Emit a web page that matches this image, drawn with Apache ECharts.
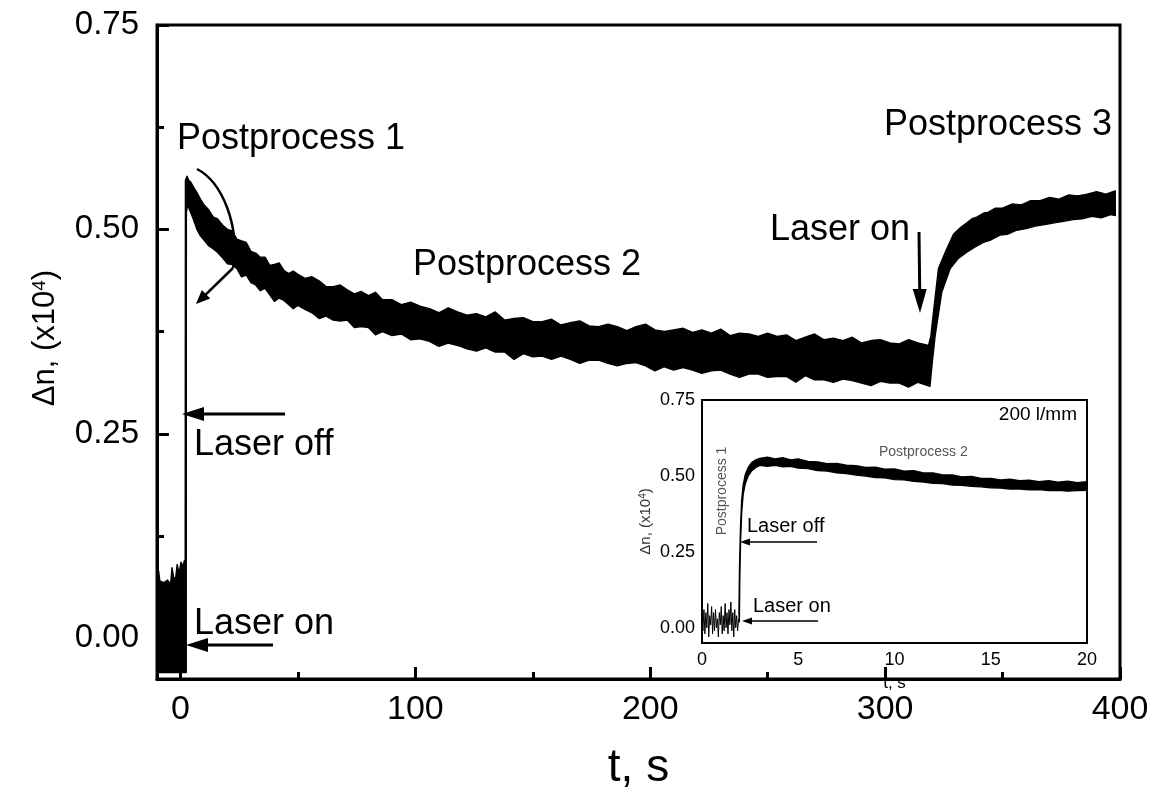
<!DOCTYPE html>
<html>
<head>
<meta charset="utf-8">
<script src="https://cdn.jsdelivr.net/npm/echarts@6.0.0/dist/echarts.min.js"></script>
<style>
html,body{margin:0;padding:0;background:#fff;}
#chart{width:1160px;height:796px;}
</style>
</head>
<body>
<div id="chart"></div>
<script>
// ---------------- DATA ----------------
// Main trace: upper and lower envelope of the noisy band (t in s, value in x10^4)
const mainUpperT = [-10,-9.3,-8.8,-7,-5.5,-4.2,-3.6,-2.8,-2.0,-1.4,-0.6,0.2,1.0,1.7,2.0,2.1,2.8,3.5,4.3,5.5,7,8.5,10,12,14,15.7,18,
  20,22,24,26,28,30,32,34,36,38,40,42,44,46,48,50,53,56,59,62,65,68,71,74,77,80,83,86,90,94,98,102,106,110,114,118,122,126,130,134,138,142,146,150,154,158,162,166,170,174,178,182,186,190,194,198,202,206,210,214,218,222,226,230,234,238,242,246,250,254,258,262,266,270,274,278,282,286,290,294,298,302,306,310,314,318.5,
  319.5,320.6,322.7,326.2,329.1,332,334.8,337,339,342,344,347,350,354,358,362,366,370,374,378,382,386,390,394,398];
const mainUpperV = [0.078,0.082,0.070,0.068,0.071,0.066,0.086,0.072,0.075,0.090,0.079,0.093,0.088,0.095,0.092,0.560,0.565,0.560,0.558,0.552,0.545,0.537,0.530,0.524,0.515,0.513,0.505,
  0.500,0.498,0.488,0.486,0.484,0.473,0.471,0.466,0.466,0.456,0.457,0.459,0.450,0.446,0.449,0.445,0.440,0.442,0.437,0.430,0.430,0.432,0.426,0.421,0.424,0.419,0.423,0.414,0.414,0.408,0.411,0.406,0.403,0.398,0.404,0.399,0.395,0.397,0.393,0.399,0.389,0.391,0.392,0.387,0.387,0.390,0.383,0.386,0.388,0.382,0.381,0.384,0.381,0.376,0.381,0.384,0.377,0.375,0.377,0.379,0.374,0.377,0.373,0.378,0.370,0.373,0.372,0.369,0.373,0.369,0.371,0.364,0.368,0.372,0.365,0.367,0.364,0.368,0.361,0.364,0.365,0.361,0.360,0.365,0.361,0.358,
  0.370,0.399,0.452,0.476,0.494,0.502,0.508,0.513,0.515,0.520,0.521,0.526,0.526,0.531,0.530,0.535,0.535,0.539,0.537,0.542,0.541,0.543,0.546,0.543,0.547];
const mainLowerT = [-10,2.45,2.5,3.0,4.3,5.5,7,8.5,10,12,14,15.7,18,
  20,22,24,26,28,30,32,34,36,38,40,42,44,46,48,50,53,56,59,62,65,68,71,74,77,80,83,86,90,94,98,102,106,110,114,118,122,126,130,134,138,142,146,150,154,158,162,166,170,174,178,182,186,190,194,198,202,206,210,214,218,222,226,230,234,238,242,246,250,254,258,262,266,270,274,278,282,286,290,294,298,302,306,310,314,319.1,
  320,321.3,324.1,327.7,331,334.8,338,341.8,345,348.9,352,356,360,364,368,372,376,380,384,388,392,396,398];
const mainLowerV = [-0.042,-0.042,0.520,0.530,0.521,0.512,0.500,0.492,0.487,0.480,0.476,0.472,0.465,
  0.458,0.457,0.452,0.442,0.444,0.435,0.432,0.425,0.428,0.420,0.412,0.416,0.413,0.408,0.403,0.407,0.402,0.398,0.391,0.394,0.389,0.388,0.389,0.380,0.381,0.380,0.371,0.375,0.370,0.372,0.365,0.366,0.363,0.357,0.361,0.358,0.354,0.351,0.355,0.350,0.350,0.341,0.348,0.344,0.345,0.341,0.345,0.341,0.336,0.340,0.340,0.336,0.333,0.336,0.337,0.333,0.327,0.332,0.328,0.331,0.328,0.324,0.327,0.328,0.323,0.319,0.323,0.323,0.319,0.320,0.320,0.313,0.321,0.316,0.316,0.313,0.317,0.315,0.312,0.309,0.314,0.312,0.312,0.307,0.313,0.308,
  0.335,0.370,0.423,0.452,0.464,0.472,0.478,0.484,0.487,0.493,0.494,0.499,0.501,0.504,0.506,0.508,0.510,0.512,0.513,0.516,0.514,0.518,0.517];

// Inset: noise before the laser is switched off
const insetNoiseT = [0,0.05,0.1,0.15,0.2,0.25,0.3,0.35,0.4,0.45,0.5,0.55,0.6,0.65,0.7,0.75,0.8,0.85,0.9,0.95,1.0,1.05,1.1,1.15,1.2,1.25,1.3,1.35,1.4,1.45,1.5,1.55,1.6,1.65,1.7,1.75,1.8,1.85,1.9];
const insetNoiseV = [0.03,-0.01,0.06,-0.02,0.05,0.00,0.08,-0.03,0.04,0.01,0.07,-0.02,0.05,-0.01,0.06,0.00,0.03,-0.03,0.05,0.01,0.07,-0.02,0.04,-0.01,0.08,0.00,0.05,-0.02,0.06,0.01,0.085,-0.01,0.05,-0.03,0.06,0.00,0.04,-0.01,0.03];
// Inset: rise and slow decay band envelopes
const insetUpperT = [1.92,1.95,2.0,2.06,2.14,2.25,2.4,2.6,2.8,3.0,3.4,3.8,4.2,4.6,5.0,5.5,6.0,6.5,7.0,7.5,8.0,8.5,9.0,9.5,10.0,10.5,11.0,11.5,12.0,12.5,13.0,13.5,14.0,14.5,15.0,15.5,16.0,16.5,17.0,17.5,18.0,18.5,19.0,19.5,20.0];
const insetUpperV = [0.05,0.20,0.33,0.42,0.47,0.505,0.528,0.545,0.553,0.558,0.562,0.556,0.560,0.553,0.556,0.548,0.546,0.540,0.541,0.535,0.534,0.528,0.529,0.522,0.523,0.516,0.517,0.510,0.510,0.503,0.503,0.497,0.498,0.492,0.492,0.487,0.489,0.484,0.486,0.481,0.484,0.479,0.483,0.478,0.481];
const insetLowerT = [1.94,1.96,2.0,2.06,2.14,2.25,2.4,2.6,2.8,3.0,3.4,3.8,4.2,4.6,5.0,5.5,6.0,6.5,7.0,7.5,8.0,8.5,9.0,9.5,10.0,10.5,11.0,11.5,12.0,12.5,13.0,13.5,14.0,14.5,15.0,15.5,16.0,16.5,17.0,17.5,18.0,18.5,19.0,19.5,20.0];
const insetLowerV = [0.02,0.15,0.28,0.38,0.44,0.475,0.50,0.518,0.528,0.535,0.532,0.535,0.530,0.532,0.526,0.524,0.518,0.516,0.510,0.508,0.503,0.500,0.495,0.494,0.488,0.487,0.482,0.480,0.476,0.475,0.470,0.469,0.466,0.464,0.461,0.460,0.457,0.457,0.454,0.455,0.452,0.453,0.450,0.452,0.453];

// Tick values
const mainXTicks = [0,100,200,300,400];
const mainXMinor = [50,150,250,350];
const yTicks = [0,0.25,0.5,0.75];
const yMinor = [0.125,0.375,0.625];

// ---------------- CHART ----------------
const FONT = '"Liberation Sans", Arial, Helvetica, sans-serif';
const chart = echarts.init(document.getElementById('chart'), null, {renderer:'canvas'});

function bandRenderer(upT, upV, loT, loV){
  return function(params, api){
    const pts = [];
    for (let i=0;i<upT.length;i++) pts.push(api.coord([upT[i], upV[i]]));
    for (let i=loT.length-1;i>=0;i--) pts.push(api.coord([loT[i], loV[i]]));
    return {type:'polygon', shape:{points:pts}, style:{fill:'#000', stroke:'#000', lineWidth:1.4, lineJoin:'round'}};
  };
}

function arrow(x1,y1,x2,y2,w,hl,hw){
  const dx=x2-x1, dy=y2-y1, L=Math.hypot(dx,dy), ux=dx/L, uy=dy/L;
  const bx=x2-ux*hl, by=y2-uy*hl;
  return [
    {type:'line', shape:{x1:x1,y1:y1,x2:bx+ux*2,y2:by+uy*2}, style:{stroke:'#000', lineWidth:w}, z:100},
    {type:'polygon', shape:{points:[[x2,y2],[bx-uy*hw,by+ux*hw],[bx+uy*hw,by-ux*hw]]}, style:{fill:'#000'}, z:100}
  ];
}
function label(text,x,y,size,opts){
  opts = opts||{};
  return {type:'text', x:x, y:y, rotation:opts.rot||0, z:100,
    style:{text:text, x:0, y:0, font: size+'px '+FONT, fill: opts.color||'#000',
      textAlign: opts.align||'left', textVerticalAlign:'middle'}};
}

const graphics = [].concat(
  [label('Postprocess 1',177,139,36),
   label('Postprocess 2',413,265,36),
   label('Postprocess 3',1112,125,36,{align:'right'}),
   label('Laser on',770,230,36),
   label('Laser off',194,445,36),
   label('Laser on',194,624,36)],
  arrow(285,414,182,414,3,22,7),
  arrow(273,645,186,645,3,22,7),
  arrow(919,232,920,313,3,24,7),
  [{type:'bezierCurve', shape:{x1:197,y1:169,cpx1:222,cpy1:182,cpx2:240,cpy2:225,x2:233,y2:268}, style:{stroke:'#000', lineWidth:2.5, fill:null}, z:100}],
  arrow(233,268,196,304,2.5,14,6),
  // inset annotations
  [label('200 l/mm',1077,415,19,{align:'right'}),
   label('Postprocess 2',879,452,14,{color:'#555'}),
   label('Postprocess 1',722,491,14,{color:'#555', align:'center', rot:Math.PI/2}),
   label('Laser off',747,526,20),
   label('Laser on',753,606,20)],
  arrow(817,542,740,542,1.5,10,3.5),
  arrow(818,621,742,621,1.5,10,3.5)
);

const axisLineMain = {show:true, onZero:false, lineStyle:{color:'#000', width:3}};
const axisLineInset = {show:true, onZero:false, lineStyle:{color:'#000', width:2}};
const hiddenLine = {show:false, onZero:false};

const option = {
  animation:false,
  backgroundColor:'#fff',
  textStyle:{fontFamily:FONT},
  grid:[
    {left:157, right:40, top:25, bottom:116, show:true, borderColor:'#000', borderWidth:3, backgroundColor:'transparent'},
    {left:702, right:73, top:400, bottom:153, show:true, borderColor:'#000', borderWidth:2, backgroundColor:'#fff', z:5}
  ],
  xAxis:[
    {type:'value', gridIndex:0, min:-10, max:400, position:'bottom',
     axisLine:axisLineMain,
     axisTick:{show:true, inside:true, length:12, customValues:mainXTicks, lineStyle:{color:'#000', width:3}},
     axisLabel:{show:true, customValues:mainXTicks, fontSize:34, color:'#000', margin:14, fontFamily:FONT},
     splitLine:{show:false},
     name:'t, s', nameLocation:'middle', nameGap:66, nameTextStyle:{fontSize:46, color:'#000', fontFamily:FONT}},
    {type:'value', gridIndex:0, min:-10, max:400, position:'bottom',
     axisLine:hiddenLine,
     axisTick:{show:true, inside:true, length:7, customValues:mainXMinor, lineStyle:{color:'#000', width:3}},
     axisLabel:{show:false}, splitLine:{show:false}},
    {type:'value', gridIndex:1, min:0, max:20, interval:5, position:'bottom',
     axisLine:axisLineInset,
     axisTick:{show:true, inside:true, length:6, lineStyle:{color:'#000', width:1.5}},
     minorTick:{show:true, splitNumber:2, length:3, lineStyle:{color:'#000', width:1.5}},
     axisLabel:{fontSize:18, color:'#000', margin:8, fontFamily:FONT},
     splitLine:{show:false}, minorSplitLine:{show:false},
     name:'t, s', nameLocation:'middle', nameGap:32, nameTextStyle:{fontSize:17, color:'#000', fontFamily:FONT}}
  ],
  yAxis:[
    {type:'value', gridIndex:0, min:-0.05, max:0.75, position:'left',
     axisLine:axisLineMain,
     axisTick:{show:true, inside:true, length:12, customValues:yTicks, lineStyle:{color:'#000', width:3}},
     axisLabel:{show:true, customValues:yTicks, fontSize:33, color:'#000', margin:18, fontFamily:FONT,
       formatter:function(v){return v.toFixed(2);}},
     splitLine:{show:false},
     name:'Δn, (x10{sup|4})', nameLocation:'middle', nameGap:96, nameRotate:90,
     nameTextStyle:{fontSize:31, color:'#000', fontFamily:FONT, padding:[0,0,0,28], rich:{sup:{fontSize:19, verticalAlign:'top', padding:[0,0,12,0], fontFamily:FONT, color:'#000'}}}},
    {type:'value', gridIndex:0, min:-0.05, max:0.75, position:'left',
     axisLine:hiddenLine,
     axisTick:{show:true, inside:true, length:7, customValues:yMinor, lineStyle:{color:'#000', width:3}},
     axisLabel:{show:false}, splitLine:{show:false}},
    {type:'value', gridIndex:1, min:-0.05, max:0.75, position:'left',
     axisLine:axisLineInset,
     axisTick:{show:true, inside:true, length:6, customValues:yTicks, lineStyle:{color:'#000', width:1.5}},
     axisLabel:{show:true, customValues:yTicks, fontSize:18, color:'#000', margin:7, fontFamily:FONT,
       formatter:function(v){return v.toFixed(2);}},
     splitLine:{show:false},
     name:'Δn, (x10{sup|4})', nameLocation:'middle', nameGap:48, nameRotate:90,
     nameTextStyle:{fontSize:15, color:'#333', fontFamily:FONT, rich:{sup:{fontSize:10, verticalAlign:'top', padding:[0,0,6,0], fontFamily:FONT, color:'#333'}}}},
    {type:'value', gridIndex:1, min:-0.05, max:0.75, position:'left',
     axisLine:hiddenLine,
     axisTick:{show:true, inside:true, length:3, customValues:yMinor, lineStyle:{color:'#000', width:1.5}},
     axisLabel:{show:false}, splitLine:{show:false}}
  ],
  series:[
    {type:'custom', name:'main', xAxisIndex:0, yAxisIndex:0, data:[[0,0]], silent:true, z:2,
     renderItem: bandRenderer(mainUpperT, mainUpperV, mainLowerT, mainLowerV)},
    {type:'line', name:'insetNoise', xAxisIndex:2, yAxisIndex:2, showSymbol:false, silent:true, z:10,
     data: insetNoiseT.map(function(t,i){return [t, insetNoiseV[i]];}),
     lineStyle:{color:'#000', width:1}},
    {type:'custom', name:'insetBand', xAxisIndex:2, yAxisIndex:2, data:[[0,0]], silent:true, z:10,
     renderItem: bandRenderer(insetUpperT, insetUpperV, insetLowerT, insetLowerV)}
  ],
  graphic: graphics
};
chart.setOption(option);
</script>
</body>
</html>
